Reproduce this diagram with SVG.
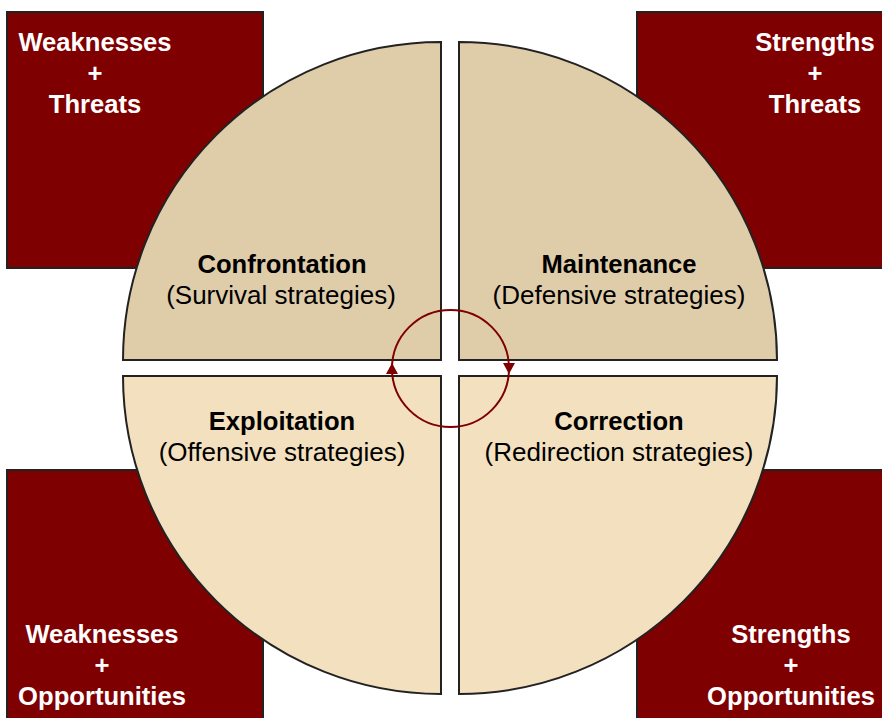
<svg xmlns="http://www.w3.org/2000/svg" width="882" height="718" viewBox="0 0 882 718">
  <style>
    .box { fill: #7f0000; stroke: #222; stroke-width: 2; }
    .q-top { fill: #dfcdaa; stroke: #222; stroke-width: 2; }
    .q-bot { fill: #f3e0bf; stroke: #222; stroke-width: 2; }
    .corner { font-family: "Liberation Sans", Arial, sans-serif; font-weight: bold; font-size: 25.6px; fill: #fff; text-anchor: middle; }
    .title { font-family: "Liberation Sans", Arial, sans-serif; font-weight: bold; font-size: 25.6px; fill: #000; text-anchor: middle; }
    .sub { font-family: "Liberation Sans", Arial, sans-serif; font-size: 26px; fill: #000; text-anchor: middle; }
    .cycle { fill: none; stroke: #7f0000; stroke-width: 2; }
  </style>
  <defs>
    <marker id="tri" markerUnits="userSpaceOnUse" markerWidth="13" markerHeight="12" viewBox="0 0 11 12" refX="5.5" refY="6" orient="auto">
      <path d="M0,0 L11,6 L0,12 Z" fill="#7f0000"/>
    </marker>
  </defs>
  <rect width="882" height="718" fill="#fff"/>

  <!-- corner boxes -->
  <g id="wt">
    <rect class="box" x="7" y="12" width="256" height="256"/>
    <text class="corner" x="95" y="51">Weaknesses</text>
    <text class="corner" x="95" y="82">+</text>
    <text class="corner" x="95" y="113">Threats</text>
  </g>
  <g id="st">
    <rect class="box" x="637" y="12" width="260" height="256"/>
    <text class="corner" x="815" y="51">Strengths</text>
    <text class="corner" x="815" y="82">+</text>
    <text class="corner" x="815" y="113">Threats</text>
  </g>
  <g id="wo">
    <rect class="box" x="7" y="470" width="256" height="260"/>
    <text class="corner" x="102" y="643">Weaknesses</text>
    <text class="corner" x="102" y="674">+</text>
    <text class="corner" x="102" y="705">Opportunities</text>
  </g>
  <g id="so">
    <rect class="box" x="637" y="470" width="260" height="260"/>
    <text class="corner" x="791" y="643">Strengths</text>
    <text class="corner" x="791" y="674">+</text>
    <text class="corner" x="791" y="705">Opportunities</text>
  </g>

  <!-- quadrants -->
  <g id="confrontation">
    <path class="q-top" d="M441,360 L123,360 A318,318 0 0 1 441,42 Z"/>
    <text class="title" x="282" y="273">Confrontation</text>
    <text class="sub" x="281" y="304">(Survival strategies)</text>
  </g>
  <g id="maintenance">
    <path class="q-top" d="M459,360 L459,42 A318,318 0 0 1 777,360 Z"/>
    <text class="title" x="619" y="273">Maintenance</text>
    <text class="sub" x="619" y="304">(Defensive strategies)</text>
  </g>
  <g id="exploitation">
    <path class="q-bot" d="M441,376 L441,694 A318,318 0 0 1 123,376 Z"/>
    <text class="title" x="282" y="430">Exploitation</text>
    <text class="sub" x="282" y="461">(Offensive strategies)</text>
  </g>
  <g id="correction">
    <path class="q-bot" d="M459,376 L777,376 A318,318 0 0 1 459,694 Z"/>
    <text class="title" x="619" y="430">Correction</text>
    <text class="sub" x="619" y="461">(Redirection strategies)</text>
  </g>

  <!-- clockwise cycle -->
  <g id="connectors">
    <path class="cycle" d="M392,368.5 A58.5,58.5 0 0 1 509,368.5" marker-end="url(#tri)"/>
    <path class="cycle" d="M509,368.5 A58.5,58.5 0 0 1 392,368.5" marker-end="url(#tri)"/>
  </g>
</svg>
